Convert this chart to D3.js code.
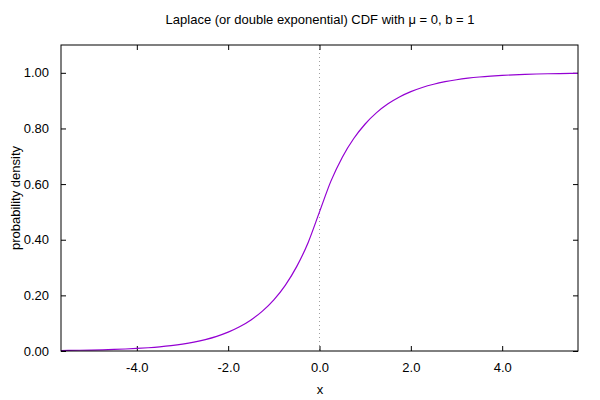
<!DOCTYPE html>
<html>
<head>
<meta charset="utf-8">
<script src="https://cdn.jsdelivr.net/npm/d3@7"></script>
<style>
body { margin: 0; background: #fff; }
svg { display: block; }
text { font-family: "Liberation Sans", Arial, sans-serif; fill: #000; }
</style>
</head>
<body>
<svg id="chart" width="600" height="400"></svg>
<script>
const titleText = "Laplace (or double exponential) CDF with \u03bc = 0, b = 1";
const xLabel = "x";
const yLabel = "probability density";
const xTicks = [-4, -2, 0, 2, 4];
const yTicks = [0, 0.2, 0.4, 0.6, 0.8, 1.0];
const xDomain = [-5.66, 5.66];
const yDomain = [0, 1.1];
const xs = [-5.66, -5.5, -5.25, -5, -4.75, -4.5, -4.25, -4, -3.75, -3.5, -3.25, -3, -2.75, -2.5, -2.25, -2, -1.75, -1.5, -1.25, -1, -0.75, -0.5, -0.25, 0,
  0.25, 0.5, 0.75, 1, 1.25, 1.5, 1.75, 2, 2.25, 2.5, 2.75, 3, 3.25, 3.5, 3.75, 4, 4.25, 4.5, 4.75, 5, 5.25, 5.5, 5.66];
const ys = [0.00174, 0.00204, 0.00262, 0.00337, 0.00433, 0.00555, 0.00713, 0.00916, 0.01176, 0.01510, 0.01939, 0.02489, 0.03196, 0.04104, 0.05270, 0.06767, 0.08689, 0.11157, 0.14325, 0.18394, 0.23618, 0.30327, 0.38940, 0.5,
  0.61060, 0.69673, 0.76382, 0.81606, 0.85675, 0.88843, 0.91311, 0.93233, 0.94730, 0.95896, 0.96804, 0.97511, 0.98061, 0.98490, 0.98824, 0.99084, 0.99287, 0.99445, 0.99567, 0.99663, 0.99738, 0.99796, 0.99826];

const svg = d3.select("#chart");
const L = 61, R = 578, T = 45, B = 351;
const x = d3.scaleLinear().domain(xDomain).range([L, R]);
const y = d3.scaleLinear().domain(yDomain).range([B, T]);
const tickLen = 5;

// vertical dotted zero line
svg.append("line")
  .attr("x1", x(0)).attr("x2", x(0))
  .attr("y1", T).attr("y2", B)
  .attr("stroke", "#a0a0a0").attr("stroke-width", 1)
  .attr("stroke-dasharray", "1,3");

// axes with inward ticks
const fx = v => d3.format(".1f")(v).replace("\u2212", "-");
const fy = v => d3.format(".2f")(v);

const gB = svg.append("g").attr("transform", `translate(0,${B})`)
  .call(d3.axisBottom(x).tickValues(xTicks).tickSizeInner(-tickLen).tickSizeOuter(0).tickPadding(12).tickFormat(fx));
const gT = svg.append("g").attr("transform", `translate(0,${T})`)
  .call(d3.axisTop(x).tickValues(xTicks).tickSizeInner(-tickLen).tickSizeOuter(0).tickFormat(""));
const gL = svg.append("g").attr("transform", `translate(${L},0)`)
  .call(d3.axisLeft(y).tickValues(yTicks).tickSizeInner(-tickLen).tickSizeOuter(0).tickPadding(12).tickFormat(fy));
const gR = svg.append("g").attr("transform", `translate(${R},0)`)
  .call(d3.axisRight(y).tickValues(yTicks).tickSizeInner(-tickLen).tickSizeOuter(0).tickFormat(""));

[gB, gT, gL, gR].forEach(g => {
  g.select(".domain").remove();
  g.selectAll("line").attr("stroke", "#000");
  g.selectAll("text").style("font-size", "13px").style("font-family", '"Liberation Sans", Arial, sans-serif').attr("fill", "#000");
});

// curve
const pts = xs.map((d, i) => [d, ys[i]]);
svg.append("path")
  .datum(pts)
  .attr("fill", "none")
  .attr("stroke", "#9400d3")
  .attr("stroke-width", 1.2)
  .attr("d", d3.line().x(d => x(d[0])).y(d => y(d[1])).curve(d3.curveMonotoneX));

// frame
svg.append("rect")
  .attr("x", L).attr("y", T).attr("width", R - L).attr("height", B - T)
  .attr("fill", "none").attr("stroke", "#000").attr("stroke-width", 1);

// title and labels
svg.append("text").attr("x", 320).attr("y", 24).attr("text-anchor", "middle")
  .style("font-size", "13px").text(titleText);
svg.append("text").attr("x", 320).attr("y", 394).attr("text-anchor", "middle")
  .style("font-size", "13px").text(xLabel);
svg.append("text").attr("transform", `translate(20,${(T + B) / 2}) rotate(-90)`)
  .attr("text-anchor", "middle").style("font-size", "13px").text(yLabel);
</script>
</body>
</html>
